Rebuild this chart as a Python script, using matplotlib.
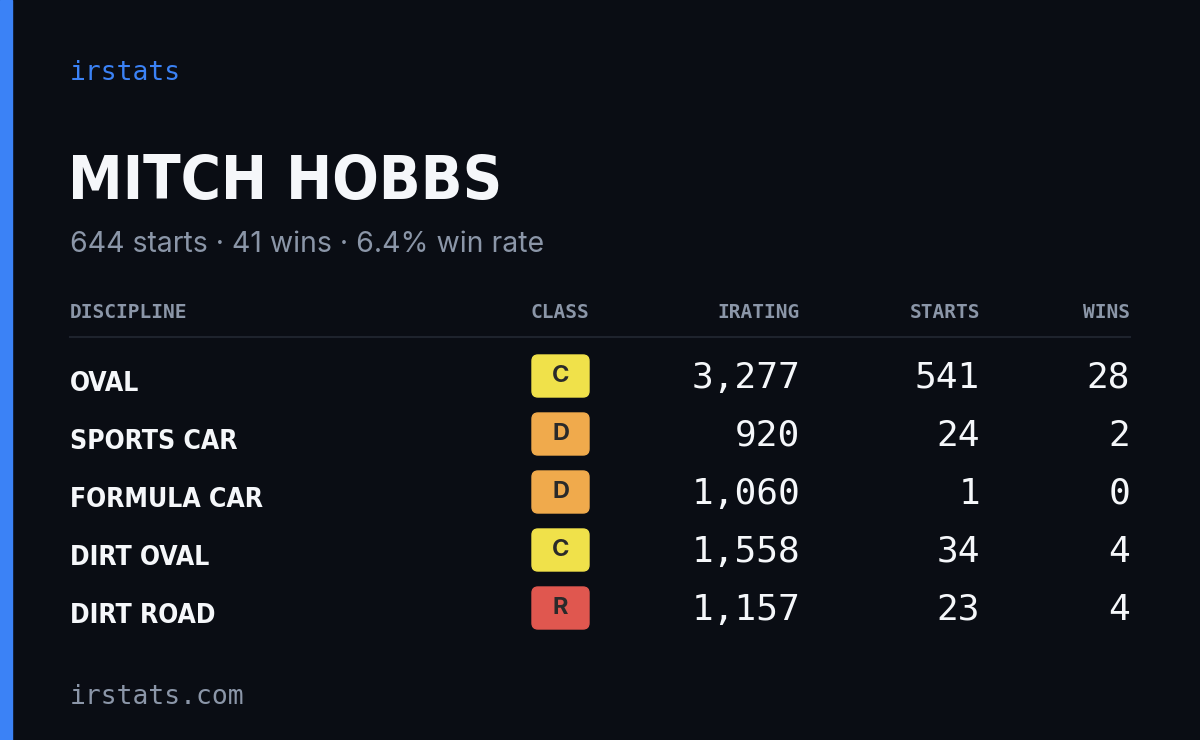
import matplotlib
matplotlib.use("Agg")
import matplotlib.pyplot as plt
from matplotlib.patches import FancyBboxPatch, Rectangle

brand = "irstats"
name = "MITCH HOBBS"
summary = "644 starts · 41 wins · 6.4% win rate"
headers = ["DISCIPLINE", "CLASS", "IRATING", "STARTS", "WINS"]
disciplines = ["OVAL", "SPORTS CAR", "FORMULA CAR", "DIRT OVAL", "DIRT ROAD"]
classes = ["C", "D", "D", "C", "R"]
iratings = [3277, 920, 1060, 1558, 1157]
starts = [541, 24, 1, 34, 23]
wins = [28, 2, 0, 4, 4]
footer = "irstats.com"

class_colors = {"C": "#f0e14a", "D": "#f0aa4c", "R": "#e0574f"}
bg = "#0a0d14"
muted = "#8b96a8"
white = "#f5f7fa"
cond = ["DejaVu Sans"]
mono = ["DejaVu Sans Mono"]

fig = plt.figure(figsize=(12, 7.4), dpi=100, facecolor=bg)
ax = fig.add_axes([0, 0, 1, 1])
ax.set_xlim(0, 1200); ax.set_ylim(740, 0); ax.axis("off")
ax.set_facecolor(bg)
ax.add_patch(Rectangle((0, 0), 12, 740, color="#3b82f6"))

ax.text(70, 73, brand, color="#3b82f6", fontsize=19, family=mono, va="center")
ax.text(68, 183, name, color=white, fontsize=44, family=cond, stretch="condensed",
        weight="bold", va="center")
ax.text(70, 245, summary, color=muted, fontsize=20.5, family=["Inter", "DejaVu Sans"], va="center")

hx = [70, 560, 800, 980, 1130]
ha = ["left", "center", "right", "right", "right"]
for h, x, a in zip(headers, hx, ha):
    ax.text(x, 313, h, color=muted, fontsize=14, family=mono, ha=a, va="center", weight="semibold")
ax.plot([70, 1130], [337, 337], color="#1e232d", lw=1.5)

y0, dy = 378, 58
for i, (d, c, r, s, w) in enumerate(zip(disciplines, classes, iratings, starts, wins)):
    y = y0 + i * dy
    ax.text(70, y + 6, d, color=white, fontsize=19, family=cond, stretch="condensed",
            weight="bold", va="center")
    ax.add_patch(FancyBboxPatch((532, y - 23), 57, 42, boxstyle="round,pad=0,rounding_size=6",
                                color=class_colors[c]))
    ax.text(560.5, y - 2, c, color="#2a2a2a", fontsize=17, weight="bold", ha="center", va="center",
            family=["Inter", "DejaVu Sans"])
    for val, x in zip([f"{r:,}", str(s), str(w)], hx[2:]):
        ax.text(x, y, val, color=white, fontsize=26, family=mono, ha="right", va="center")

ax.text(70, 697, footer, color=muted, fontsize=19, family=mono, va="center")
fig.savefig("out.png", dpi=100, facecolor=bg)
